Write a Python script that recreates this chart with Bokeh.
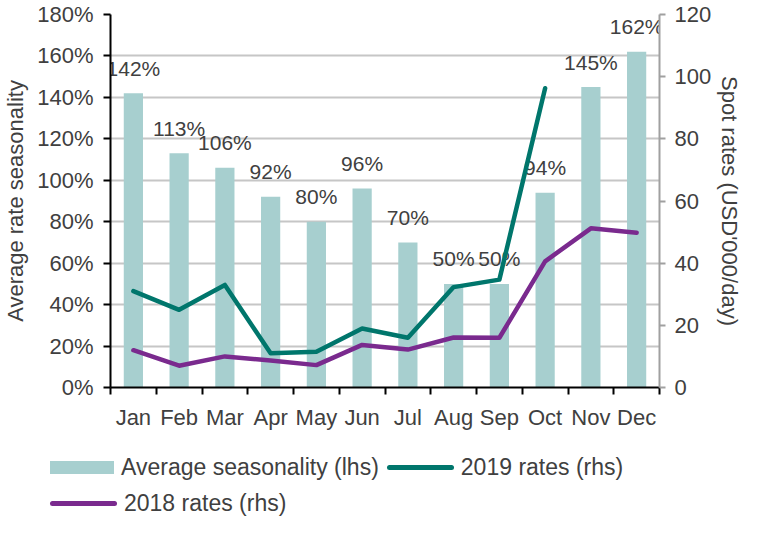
from bokeh.plotting import figure
from bokeh.layouts import column
from bokeh.models import (Range1d, FactorRange, LinearAxis, FixedTicker,
                          PrintfTickFormatter, Div)
from bokeh.core.properties import value
from bokeh.embed import file_html
from bokeh.resources import INLINE

# ---------------- data ----------------
months = ["Jan", "Feb", "Mar", "Apr", "May", "Jun", "Jul", "Aug", "Sep", "Oct", "Nov", "Dec"]
seasonality = [142, 113, 106, 92, 80, 96, 70, 50, 50, 94, 145, 162]          # % (lhs)
rates_2019 = [31, 25, 33, 11, 11.5, 19, 16, 32.3, 34.7, 96.3]                 # USD'000/day (rhs)
rates_2018 = [12, 7, 10, 8.7, 7.2, 13.7, 12.2, 16.1, 16, 40.6, 51.2, 49.8]   # USD'000/day (rhs)
lhs_ticks = [0, 20, 40, 60, 80, 100, 120, 140, 160, 180]
rhs_ticks = [0, 20, 40, 60, 80, 100, 120]
bar_labels = [f"{v}%" for v in seasonality]
series_names = ["Average seasonality (lhs)", "2019 rates (rhs)", "2018 rates (rhs)"]

FONT = "Liberation Sans"
TXT = "#404040"
BAR = "#a7cfcf"
C2019 = "#00766c"
C2018 = "#7a2a8e"
LW = 4.5

p = figure(width=745, height=432, output_backend="svg", toolbar_location=None,
           x_range=FactorRange(*months, range_padding=0),
           y_range=Range1d(lhs_ticks[0], lhs_ticks[-1]),
           x_axis_location=None,
           min_border_left=105, min_border_right=84, min_border_top=14, min_border_bottom=45)
p.outline_line_color = None
p.background_fill_color = "white"
p.border_fill_color = "white"
p.xgrid.visible = False

# left axis
ya = p.yaxis[0]
ya.ticker = FixedTicker(ticks=lhs_ticks)
ya.formatter = PrintfTickFormatter(format="%d%%")
ya.axis_label = "Average rate seasonality"
ya.axis_label_text_font = FONT
ya.axis_label_text_font_size = "22px"
ya.axis_label_text_font_style = "normal"
ya.axis_label_text_color = TXT
ya.axis_label_standoff = 6
ya.major_label_text_font = FONT
ya.major_label_text_font_size = "22px"
ya.major_label_text_color = TXT
ya.major_label_standoff = 10
ya.axis_line_color = "black"
ya.axis_line_width = 2
ya.major_tick_line_color = "black"
ya.major_tick_line_width = 2
ya.major_tick_out = 7
ya.major_tick_in = 0
ya.minor_tick_line_color = None

p.ygrid.ticker = ya.ticker
p.ygrid.grid_line_color = "#c6c6c6"
p.ygrid.grid_line_width = 2

# right axis
p.extra_y_ranges = {"rates": Range1d(rhs_ticks[0], rhs_ticks[-1])}
ra = LinearAxis(y_range_name="rates", ticker=FixedTicker(ticks=rhs_ticks),
                axis_label="Spot rates (USD'000/day)")
ra.axis_label_text_font = FONT
ra.axis_label_text_font_size = "22px"
ra.axis_label_text_font_style = "normal"
ra.axis_label_text_color = TXT
ra.axis_label_standoff = 3
ra.major_label_text_font = FONT
ra.major_label_text_font_size = "22px"
ra.major_label_text_color = TXT
ra.major_label_standoff = 9
ra.axis_line_color = "#a0a0a0"
ra.axis_line_width = 2
ra.major_tick_line_color = "#a0a0a0"
ra.major_tick_line_width = 2
ra.major_tick_out = 6
ra.major_tick_in = 0
ra.minor_tick_line_color = None
p.add_layout(ra, "right")

# bottom axis on the factor range's synthetic coordinates:
# labels at category centres, ticks at category boundaries
centres = [i + 0.5 for i in range(len(months))]
bounds = list(range(len(months) + 1))
xa = LinearAxis(ticker=FixedTicker(ticks=centres, minor_ticks=bounds),
                major_label_overrides={c: m for c, m in zip(centres, months)})
xa.major_label_text_font = FONT
xa.major_label_text_font_size = "22px"
xa.major_label_text_color = TXT
xa.major_label_standoff = 10
xa.major_tick_line_color = None
xa.major_tick_out = 0
xa.major_tick_in = 0
xa.minor_tick_line_color = "black"
xa.minor_tick_line_width = 2
xa.minor_tick_out = 7
xa.minor_tick_in = 0
xa.axis_line_color = "black"
xa.axis_line_width = 2
p.add_layout(xa, "below")

# glyphs
p.vbar(x=months, top=seasonality, width=0.42, fill_color=BAR, line_color=None)
p.text(x=months, y=seasonality, text=bar_labels, text_align="center",
       text_baseline="alphabetic", y_offset=-25,
       text_font=value(FONT), text_font_size="21px", text_color=TXT)
p.line(x=months[:len(rates_2019)], y=rates_2019, y_range_name="rates",
       line_color=C2019, line_width=LW, line_join="round", line_cap="round")
p.line(x=months[:len(rates_2018)], y=rates_2018, y_range_name="rates",
       line_color=C2018, line_width=LW, line_join="round", line_cap="round")

# legend (HTML, real text) below the chart
def swatch(color, kind):
    if kind == "bar":
        return (f'<span style="display:inline-block;width:64px;height:13px;'
                f'background:{color};margin-right:7px;vertical-align:middle"></span>')
    return (f'<span style="display:inline-block;width:67px;height:5px;border-radius:3px;'
            f'background:{color};margin-right:7px;vertical-align:middle"></span>')

def item(color, kind, name, extra=""):
    return (f'<span style="display:inline-flex;align-items:center;{extra}">'
            f'{swatch(color, kind)}<span>{name}</span></span>')

row_style = (f'display:flex;align-items:center;height:36px;white-space:nowrap;'
             f'font-family:\'{FONT}\';font-size:23px;color:{TXT};')
html = (f'<div style="padding-left:45px;padding-top:12px">'
        f'<div style="{row_style}">{item(BAR, "bar", series_names[0])}'
        f'{item(C2019, "line", series_names[1], "margin-left:8px")}</div>'
        f'<div style="{row_style}">{item(C2018, "line", series_names[2])}</div>'
        f'</div>')
lg = Div(text=html, width=745, height=85)

layout = column(p, lg, spacing=0)
open("out.html", "w").write(file_html(layout, INLINE))
